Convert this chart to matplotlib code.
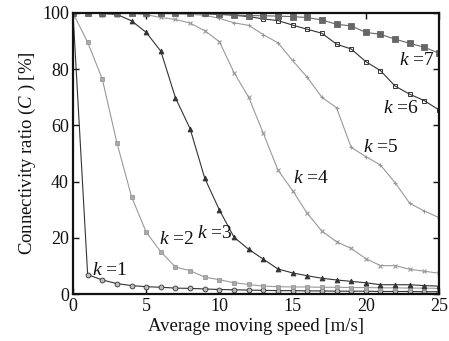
import matplotlib
matplotlib.use("Agg")
import matplotlib.pyplot as plt
import numpy as np

plt.rcParams['font.family'] = ['Liberation Serif', 'DejaVu Serif']
plt.rcParams['mathtext.fontset'] = 'custom'
plt.rcParams['mathtext.it'] = 'Liberation Serif:italic'
plt.rcParams['mathtext.rm'] = 'Liberation Serif'

speed = list(range(26))
k1 = [100, 6.9, 5.0, 3.7, 3.0, 2.6, 2.4, 2.1, 2.0, 1.8, 1.6, 1.5, 1.4, 1.3, 1.2, 1.2, 1.1, 1.1, 1.0, 1.0, 1.0, 0.9, 0.9, 0.9, 0.8, 0.8]
k2 = [100, 89.6, 76.5, 53.8, 34.6, 22.0, 15.0, 9.6, 8.3, 6.0, 5.1, 4.0, 3.4, 2.8, 2.6, 2.5, 2.5, 2.4, 2.4, 2.3, 2.3, 2.2, 2.2, 2.1, 2.1, 2.0]
k3 = [100, 100, 99.8, 99.5, 97.2, 93.1, 86.4, 69.8, 58.8, 41.2, 29.9, 20.2, 15.9, 12.4, 8.9, 7.5, 6.5, 5.6, 5.0, 4.5, 4.0, 3.3, 3.3, 3.3, 3.0, 2.8]
k4 = [100, 100, 100, 100, 99.8, 99.4, 98.4, 97.7, 96.4, 93.7, 89.8, 78.8, 70.0, 57.2, 44.1, 36.8, 28.7, 22.4, 18.6, 16.2, 12.6, 10.1, 10.1, 8.8, 8.1, 7.4]
k5 = [100, 100, 100, 100, 100, 100, 99.8, 99.7, 99.5, 99.2, 98.1, 96.5, 95.6, 92.3, 89.4, 83.1, 77.1, 70.0, 66.3, 52.2, 48.9, 45.9, 39.6, 32.3, 29.5, 27.2]
k6 = [100, 100, 100, 100, 100, 100, 100, 100, 99.9, 99.7, 99.5, 99.2, 98.7, 97.9, 97.3, 95.7, 94.2, 92.8, 88.9, 87.2, 82.7, 79.5, 74.0, 71.1, 68.8, 65.5]
k7 = [100, 100, 100, 100, 100, 100, 100, 100, 100, 99.9, 99.7, 99.3, 99.1, 99.0, 98.9, 98.7, 98.4, 97.5, 96.0, 95.4, 93.1, 92.4, 90.7, 89.2, 87.8, 85.7]

labels = ['1', '2', '3', '4', '5', '6', '7']
label_pos = [(1.3, 8.5), (5.9, 19.5), (8.5, 21.5), (15.0, 41.0), (19.8, 52.0), (21.2, 66.0), (22.3, 83.0)]

dark = '#333333'
light = '#999999'
mid = '#666666'

fig = plt.figure(figsize=(4.49, 3.41), dpi=100)
ax = fig.add_axes([0.1626, 0.1378, 0.8151, 0.8241])

ax.plot(speed, k1, color=dark, lw=0.8, marker='o', ms=3.5, mfc='#bbbbbb', mec=dark, mew=0.6)
ax.plot(speed, k2, color=light, lw=0.8, marker='s', ms=3, mfc='#aaaaaa', mec=light, mew=0.6)
ax.plot(speed, k3, color=dark, lw=0.8, marker='^', ms=3.5, mfc=dark, mec=dark, mew=0.6)
ax.plot(speed, k4, color=light, lw=0.8, marker='x', ms=3.5, mec=light, mew=0.8)
ax.plot(speed, k5, color=light, lw=0.8, marker='+', ms=3.5, mec=light, mew=0.8)
ax.plot(speed, k6, color=dark, lw=0.8, marker='s', ms=3.5, mfc='none', mec=dark, mew=0.7)
ax.plot(speed, k7, color=mid, lw=0.8, marker='s', ms=4, mfc=mid, mec=mid, mew=0.6)

for lab, (lx, ly) in zip(labels, label_pos):
    ax.text(lx, ly, r'$k$ =' + lab, fontsize=14, color='#111111', va='center', ha='left')

ax.set_xlim(0, 25)
ax.set_ylim(0, 100)
ax.set_xticks([0, 5, 10, 15, 20, 25])
ax.set_yticks([0, 20, 40, 60, 80, 100])
ax.tick_params(direction='in', top=True, right=True, labelsize=13, length=4, width=1, colors='#111111', pad=3)
for s in ax.spines.values():
    s.set_linewidth(1.6)
    s.set_color('#111111')
ax.set_xlabel('Average moving speed [m/s]', fontsize=13.5, color='#111111', labelpad=2)
ax.set_ylabel(r'Connectivity ratio ($C$ ) [%]', fontsize=13.5, color='#111111', labelpad=3)

fig.savefig('out.png', dpi=100)
